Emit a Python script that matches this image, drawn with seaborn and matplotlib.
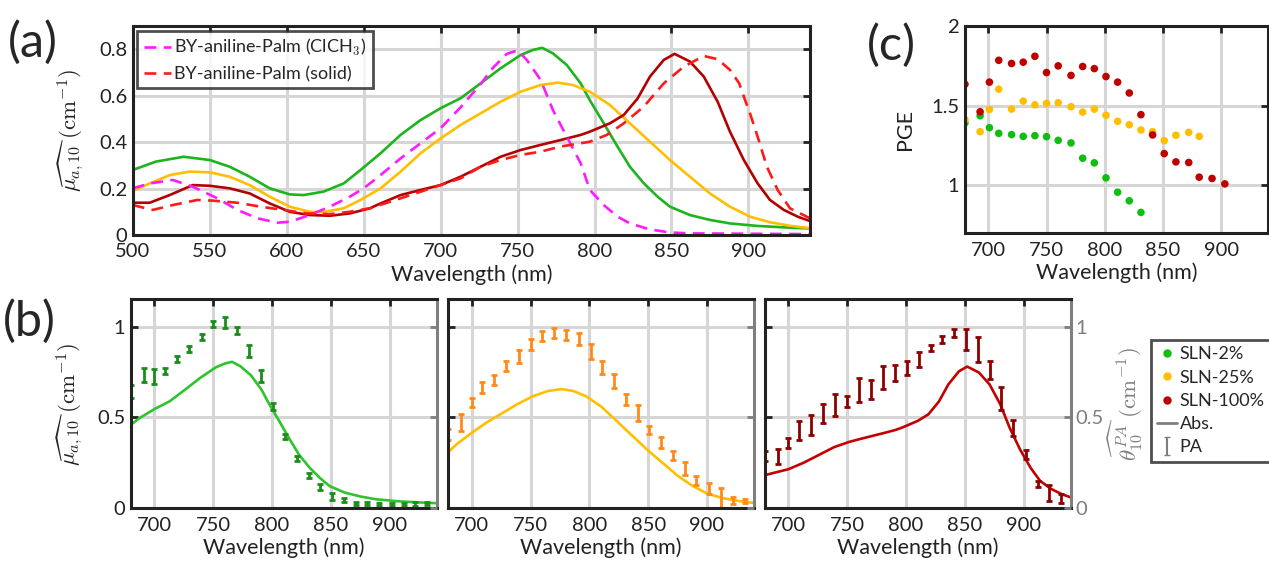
import numpy as np
import pandas as pd
import matplotlib
matplotlib.use('Agg')
import matplotlib.pyplot as plt
import seaborn as sns
from matplotlib.lines import Line2D

# absorbance spectra, panel (a) (also reused for panel (b) lines)
wl_g = [500, 515, 533, 550, 563, 576, 589, 602, 611, 624, 637, 648, 661, 674, 687, 700, 713, 726,
        739, 752, 760, 766, 773, 782, 791, 797, 806, 815, 823, 832, 841, 849, 862, 875, 888, 906,
        923, 940]
abs_g = [0.28, 0.316, 0.337, 0.323, 0.294, 0.251, 0.201, 0.175, 0.172, 0.187, 0.222, 0.28, 0.352,
         0.431, 0.495, 0.546, 0.589, 0.653, 0.718, 0.775, 0.797, 0.806, 0.782, 0.732, 0.653, 0.58,
         0.481, 0.38, 0.294, 0.223, 0.165, 0.122, 0.086, 0.065, 0.05, 0.039, 0.033, 0.028]

wl_y = [500, 511, 524, 537, 550, 563, 576, 589, 602, 615, 624, 637, 648, 661, 674, 687, 700, 713,
        726, 739, 752, 765, 776, 786, 797, 810, 823, 836, 849, 862, 875, 888, 901, 914, 927, 940]
abs_y = [0.19, 0.222, 0.258, 0.273, 0.27, 0.251, 0.215, 0.165, 0.122, 0.1, 0.099, 0.115, 0.151,
         0.201, 0.273, 0.352, 0.416, 0.474, 0.524, 0.574, 0.617, 0.646, 0.656, 0.646, 0.617, 0.56,
         0.481, 0.402, 0.323, 0.251, 0.179, 0.122, 0.079, 0.055, 0.04, 0.029]

wl_r = [500, 511, 524, 539, 550, 563, 576, 589, 602, 615, 628, 641, 654, 661, 674, 687, 700, 713,
        726, 739, 752, 765, 778, 791, 797, 810, 819, 828, 836, 845, 852, 862, 871, 880, 888, 897,
        906, 914, 923, 932, 940]
abs_r = [0.139, 0.139, 0.172, 0.215, 0.212, 0.201, 0.179, 0.136, 0.1, 0.086, 0.083, 0.093, 0.115,
         0.136, 0.172, 0.194, 0.215, 0.251, 0.294, 0.337, 0.366, 0.388, 0.409, 0.431, 0.445, 0.481,
         0.517, 0.588, 0.682, 0.754, 0.78, 0.747, 0.682, 0.574, 0.445, 0.323, 0.222, 0.151, 0.108,
         0.079, 0.06]

wl_m = [500, 511, 526, 539, 555, 568, 581, 594, 602, 615, 628, 641, 650, 661, 674, 687, 700, 713,
        726, 734, 743, 750, 756, 765, 773, 782, 791, 797, 806, 815, 823, 836, 849, 862, 940]
abs_m = [0.201, 0.222, 0.237, 0.208, 0.158, 0.108, 0.072, 0.053, 0.057, 0.086, 0.122, 0.165, 0.201,
         0.258, 0.33, 0.395, 0.46, 0.55, 0.65, 0.72, 0.78, 0.795, 0.754, 0.668, 0.538, 0.423, 0.309,
         0.194, 0.129, 0.079, 0.05, 0.024, 0.011, 0.007, 0.004]

wl_s = [500, 513, 526, 542, 552, 568, 583, 598, 613, 628, 641, 654, 674, 700, 713, 726, 739, 752,
        765, 778, 791, 797, 808, 819, 832, 845, 858, 871, 880, 888, 894, 897, 901, 906, 912, 919,
        927, 940]
abs_s = [0.129, 0.108, 0.129, 0.151, 0.148, 0.139, 0.122, 0.108, 0.093, 0.09, 0.1, 0.115, 0.158,
         0.215, 0.244, 0.294, 0.323, 0.345, 0.359, 0.381, 0.395, 0.402, 0.431, 0.481, 0.553, 0.653,
         0.725, 0.771, 0.757, 0.711, 0.653, 0.596, 0.524, 0.423, 0.294, 0.194, 0.115, 0.072]

# photoacoustic spectra, panel (b)
wl_pa = [680, 691, 700, 709, 719, 729, 740, 750, 760, 770, 780, 791, 801, 811, 821, 831, 841, 851,
         861, 871, 881, 891, 902, 912, 922, 932]
pa_g = [0.642, 0.734, 0.725, 0.756, 0.82, 0.877, 0.941, 1.015, 1.022, 0.978, 0.866, 0.728, 0.56,
        0.394, 0.275, 0.18, 0.116, 0.064, 0.046, 0.028, 0.028, 0.022, 0.022, 0.022, 0.022, 0.028]
err_g = [0.037, 0.04, 0.04, 0.018, 0.016, 0.016, 0.016, 0.018, 0.032, 0.021, 0.032, 0.035, 0.018,
         0.015, 0.013, 0.012, 0.016, 0.018, 0.01, 0.008, 0.008, 0.008, 0.008, 0.008, 0.012, 0.008]
pa_y = [0.407, 0.473, 0.582, 0.664, 0.706, 0.785, 0.835, 0.899, 0.95, 0.963, 0.954, 0.932, 0.862,
        0.776, 0.701, 0.6, 0.523, 0.431, 0.361, 0.288, 0.22, 0.152, 0.11, 0.055, 0.042, 0.04]
err_y = [0.032, 0.046, 0.023, 0.03, 0.03, 0.028, 0.035, 0.03, 0.028, 0.028, 0.028, 0.034, 0.041,
         0.037, 0.039, 0.03, 0.044, 0.022, 0.029, 0.025, 0.035, 0.023, 0.031, 0.055, 0.018, 0.012]
pa_r = [0.288, 0.284, 0.358, 0.428, 0.459, 0.523, 0.569, 0.587, 0.651, 0.655, 0.721, 0.743, 0.771,
        0.817, 0.881, 0.93, 0.963, 0.93, 0.875, 0.761, 0.606, 0.444, 0.297, 0.134, 0.083, 0.055]
err_r = [0.028, 0.041, 0.028, 0.05, 0.053, 0.051, 0.06, 0.032, 0.064, 0.052, 0.064, 0.043, 0.037,
         0.041, 0.018, 0.018, 0.022, 0.057, 0.069, 0.049, 0.064, 0.044, 0.024, 0.018, 0.043, 0.026]

# PGE, panel (c)
wl_pge = [680, 693, 701, 709, 720, 730, 740, 750, 760, 771, 781, 791, 801, 811, 821, 831, 841, 851,
          861, 872, 881, 892, 903]
pge_2 = [1.392, 1.4375, 1.3625, 1.327, 1.319, 1.308, 1.3125, 1.306, 1.283, 1.267, 1.171, 1.142,
         1.048, 0.958, 0.904, 0.831]
pge_25 = [1.4125, 1.3375, 1.477, 1.604, 1.479, 1.529, 1.506, 1.515, 1.519, 1.494, 1.46, 1.479,
          1.44, 1.402, 1.381, 1.348, 1.3375, 1.281, 1.315, 1.333, 1.308]
pge_100 = [1.635, 1.4625, 1.648, 1.785, 1.765, 1.773, 1.81, 1.708, 1.75, 1.69, 1.746, 1.733, 1.683,
           1.648, 1.58, 1.444, 1.317, 1.20, 1.148, 1.144, 1.052, 1.044, 1.01]

sns.set_style('white')
plt.rcParams['font.family'] = ['Lato', 'DejaVu Sans']
plt.rcParams['mathtext.fontset'] = 'cm'
plt.rcParams['font.size'] = 14

c_green, c_yellow, c_red = '#1db41d', '#ffbf00', '#b30000'
ylab_mu = r'$\widehat{\mu_{a,10}}\ (\mathrm{cm}^{-1})$'
ylab_th = r'$\widehat{\theta_{10}^{PA}}\ (\mathrm{cm}^{-1})$'
TICK_FS = 14.5
LAB_FS = 15.5
LW = 1.9


def style_ax(ax, right_color='#222222'):
    for side, sp in ax.spines.items():
        sp.set_linewidth(2.2)
        sp.set_color('#222222')
    ax.spines['right'].set_color(right_color)
    ax.tick_params(direction='in', length=5, width=2, top=True, right=True,
                   labelsize=TICK_FS, colors='#222222', pad=4)
    ax.tick_params(axis='x', pad=6)
    ax.grid(True, color='#d6d6d6', linewidth=2.2)
    ax.set_axisbelow(True)


fig = plt.figure(figsize=(12.69, 5.64), dpi=100)

# panel (a)
ax_a = fig.add_axes([0.1046, 0.5833, 0.5337, 0.3706])
style_ax(ax_a)
sns.lineplot(x=wl_g, y=abs_g, ax=ax_a, color=c_green, lw=LW)
sns.lineplot(x=wl_y, y=abs_y, ax=ax_a, color=c_yellow, lw=LW)
sns.lineplot(x=wl_r, y=abs_r, ax=ax_a, color=c_red, lw=LW)
sns.lineplot(x=wl_m, y=abs_m, ax=ax_a, color='#ff1aff', lw=LW)
ax_a.lines[-1].set_dashes([4.5, 2.8])
ax_a.lines[-1].set_label('BY-aniline-Palm (ClCH$_3$)')
sns.lineplot(x=wl_s, y=abs_s, ax=ax_a, color='#ff1a1a', lw=LW)
ax_a.lines[-1].set_dashes([4.5, 2.8])
ax_a.lines[-1].set_label('BY-aniline-Palm (solid)')
ax_a.set_xlim(500, 940)
ax_a.set_ylim(0, 0.9)
ax_a.set_xticks([500, 550, 600, 650, 700, 750, 800, 850, 900])
ax_a.set_yticks([0, 0.2, 0.4, 0.6, 0.8])
ax_a.set_yticklabels(['0', '0.2', '0.4', '0.6', '0.8'])
ax_a.set_xlabel('Wavelength (nm)', fontsize=LAB_FS, color='#222222', labelpad=3)
ax_a.set_ylabel(ylab_mu, fontsize=16.5, color='#222222', labelpad=9)
handles = [ax_a.lines[3], ax_a.lines[4]]
leg = ax_a.legend(handles=handles, loc='upper left', fontsize=13, frameon=True,
                  fancybox=False, borderaxespad=0.25, handlelength=1.5, handletextpad=0.2,
                  borderpad=0.35, labelspacing=0.45)
leg.get_frame().set_edgecolor('#222222')
leg.get_frame().set_linewidth(2)

# panel (c)
ax_c = fig.add_axes([0.7604, 0.5863, 0.2388, 0.3676])
style_ax(ax_c)
df_c = pd.concat([
    pd.DataFrame({'wl': wl_pge[:len(pge_2)], 'pge': pge_2, 's': 'SLN-2%'}),
    pd.DataFrame({'wl': wl_pge[:len(pge_25)], 'pge': pge_25, 's': 'SLN-25%'}),
    pd.DataFrame({'wl': wl_pge, 'pge': pge_100, 's': 'SLN-100%'}),
])
sns.scatterplot(data=df_c, x='wl', y='pge', hue='s', ax=ax_c, s=30, linewidth=0,
                palette={'SLN-2%': '#0fbf0f', 'SLN-25%': '#ffbf00', 'SLN-100%': '#c00000'},
                legend=False)
ax_c.set_xlim(680, 940)
ax_c.set_ylim(0.7, 2)
ax_c.set_xticks([700, 750, 800, 850, 900])
ax_c.set_yticks([1, 1.5, 2])
ax_c.set_yticklabels(['1', '1.5', '2'])
ax_c.set_xlabel('Wavelength (nm)', fontsize=LAB_FS, color='#222222', labelpad=3)
ax_c.set_ylabel('PGE', fontsize=LAB_FS, color='#222222', labelpad=12)

# panel (b)
b_lefts = [0.1032, 0.3533, 0.6028]
b_specs = [
    (wl_g, abs_g, '#2ec42e', pa_g, err_g, '#1c8c1c'),
    (wl_y, abs_y, '#ffbf00', pa_y, err_y, '#ff8a1a'),
    (wl_r, abs_r, '#c40000', pa_r, err_r, '#8c0000'),
]
for i, (left, spec) in enumerate(zip(b_lefts, b_specs)):
    wl, ab, lc, pa, er, ec = spec
    ax = fig.add_axes([left, 0.0988, 0.2409, 0.3705])
    style_ax(ax, right_color='#7f7f7f')
    sns.lineplot(x=wl, y=ab, ax=ax, color=lc, lw=LW)
    ax.errorbar(wl_pa, pa, yerr=er, fmt='none', ecolor=ec, elinewidth=2, capsize=2.5,
                capthick=2)
    ax.set_xlim(680, 940)
    ax.set_ylim(0, 1.15)
    ax.set_xticks([700, 750, 800, 850, 900])
    ax.set_yticks([0, 0.5, 1])
    ax.tick_params(axis='y', right=False)
    ax.set_xlabel('Wavelength (nm)', fontsize=LAB_FS, color='#222222', labelpad=3)
    if i == 0:
        ax.set_yticklabels(['0', '0.5', '1'])
        ax.set_ylabel(ylab_mu, fontsize=16.5, color='#222222', labelpad=9)
    else:
        ax.set_yticklabels([])
    axr = ax.twinx()
    axr.set_ylim(0, 1.15)
    axr.set_yticks([0, 0.5, 1])
    axr.tick_params(axis='y', direction='in', length=5, width=2, colors='#7f7f7f',
                    labelsize=TICK_FS)
    for sp in axr.spines.values():
        sp.set_visible(False)
    if i == 2:
        axr.set_yticklabels(['0', '0.5', '1'])
        axr.set_ylabel(ylab_th, fontsize=16.5, color='#7f7f7f', labelpad=2)
    else:
        axr.set_yticklabels([])

# legend of panel (b)
proxy_ax = fig.axes[-1]
eb = proxy_ax.errorbar([np.nan], [np.nan], yerr=[0.1], fmt='none', ecolor='#7f7f7f',
                       elinewidth=1.5, capsize=2.5)
leg_handles = [
    Line2D([], [], ls='none', marker='o', ms=5, color='#0fbf0f'),
    Line2D([], [], ls='none', marker='o', ms=5, color='#ffbf00'),
    Line2D([], [], ls='none', marker='o', ms=5, color='#c00000'),
    Line2D([], [], color='#7f7f7f', lw=2),
    eb,
]
leg_b = fig.legend(leg_handles, ['SLN-2%', 'SLN-25%', 'SLN-100%', 'Abs.', 'PA'],
                   loc='upper left', bbox_to_anchor=(0.907, 0.397), fontsize=13,
                   frameon=True, fancybox=False, handlelength=1.1, handletextpad=0.15,
                   borderpad=0.35, labelspacing=0.4, borderaxespad=0)
leg_b.get_frame().set_edgecolor('#222222')
leg_b.get_frame().set_linewidth(2)

# panel labels
fig.text(0.006, 0.925, '(a)', fontsize=35, va='center', ha='left')
fig.text(0.002, 0.43, '(b)', fontsize=35, va='center', ha='left')
fig.text(0.683, 0.92, '(c)', fontsize=35, va='center', ha='left')

fig.savefig('out.png', dpi=100)
